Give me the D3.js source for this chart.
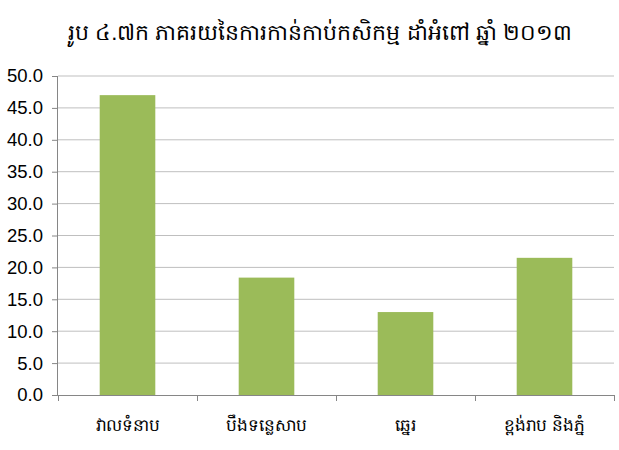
<!DOCTYPE html>
<html>
<head>
<meta charset="utf-8">
<script src="https://d3js.org/d3.v7.min.js"></script>
<style>
  body { margin: 0; background: #fff; }
  text { font-family: "Liberation Sans", Arial, sans-serif; }
</style>
</head>
<body>
<div id="chart"></div>
<script>
// data
var categories = ['វាលទំនាប', 'បឹងទន្លេសាប', 'ឆ្នេរ', 'ខ្ពង់រាប និងភ្នំ'];
var values = [47.0, 18.4, 13.0, 21.5];
var yTicks = [0, 5, 10, 15, 20, 25, 30, 35, 40, 45, 50];
var title = 'រូប ៤.៧ក ភាគរយនៃការកាន់កាប់កសិកម្ម ដាំអំពៅ ឆ្នាំ ២០១៣';

var width = 619, height = 450;
var margin = { top: 76, right: 5, bottom: 55, left: 58 };

var svg = d3.select('#chart').append('svg')
    .attr('width', width)
    .attr('height', height);

var x = d3.scaleBand()
    .domain(categories)
    .range([margin.left, width - margin.right])
    .paddingInner(0.6)
    .paddingOuter(0.3);

var y = d3.scaleLinear()
    .domain([0, 50])
    .range([height - margin.bottom, margin.top]);

// gridlines
svg.append('g').selectAll('line').data(yTicks.filter(function(d) { return d > 0; }))
  .enter().append('line')
    .attr('x1', margin.left).attr('x2', width - margin.right)
    .attr('y1', function(d) { return y(d); })
    .attr('y2', function(d) { return y(d); })
    .attr('stroke', '#bfbfbf')
    .attr('stroke-width', 1);

// bars
svg.append('g').selectAll('rect').data(values)
  .enter().append('rect')
    .attr('x', function(d, i) { return x(categories[i]); })
    .attr('y', function(d) { return y(d); })
    .attr('width', x.bandwidth())
    .attr('height', function(d) { return y(0) - y(d); })
    .attr('fill', '#9bbb59');

// y axis
var yAxis = svg.append('g')
    .attr('transform', 'translate(' + margin.left + ',0)')
    .call(d3.axisLeft(y).tickValues(yTicks).tickFormat(d3.format('.1f')).tickSize(6).tickPadding(9));
yAxis.select('.domain').attr('stroke', '#868686').attr('d', 'M-0.5,' + y(50) + 'V' + (y(0) + 0.5));
yAxis.selectAll('.tick line').attr('stroke', '#868686');
yAxis.selectAll('.tick text').attr('font-size', 18.5).attr('fill', '#000')
    .style('font-family', '"Liberation Sans", Arial, sans-serif');

// x axis with boundary ticks
var bounds = d3.range(categories.length + 1).map(function(i) {
  return margin.left + i * (width - margin.right - margin.left) / categories.length;
});
var xg = svg.append('g');
xg.append('line')
    .attr('x1', margin.left).attr('x2', width - margin.right)
    .attr('y1', y(0) + 0.5).attr('y2', y(0) + 0.5)
    .attr('stroke', '#868686');
xg.selectAll('line.b').data(bounds).enter().append('line')
    .attr('class', 'b')
    .attr('x1', function(d) { return Math.round(d) + 0.5; })
    .attr('x2', function(d) { return Math.round(d) + 0.5; })
    .attr('y1', y(0)).attr('y2', y(0) + 6)
    .attr('stroke', '#868686');
xg.selectAll('text').data(categories).enter().append('text')
    .attr('x', function(d) { return x(d) + x.bandwidth() / 2; })
    .attr('y', y(0) + 36)
    .attr('text-anchor', 'middle')
    .attr('font-size', 17)
    .text(function(d) { return d; });

// title
svg.append('text')
    .attr('x', 320)
    .attr('y', 40)
    .attr('text-anchor', 'middle')
    .attr('font-size', 22)
    .text(title);
</script>
</body>
</html>
